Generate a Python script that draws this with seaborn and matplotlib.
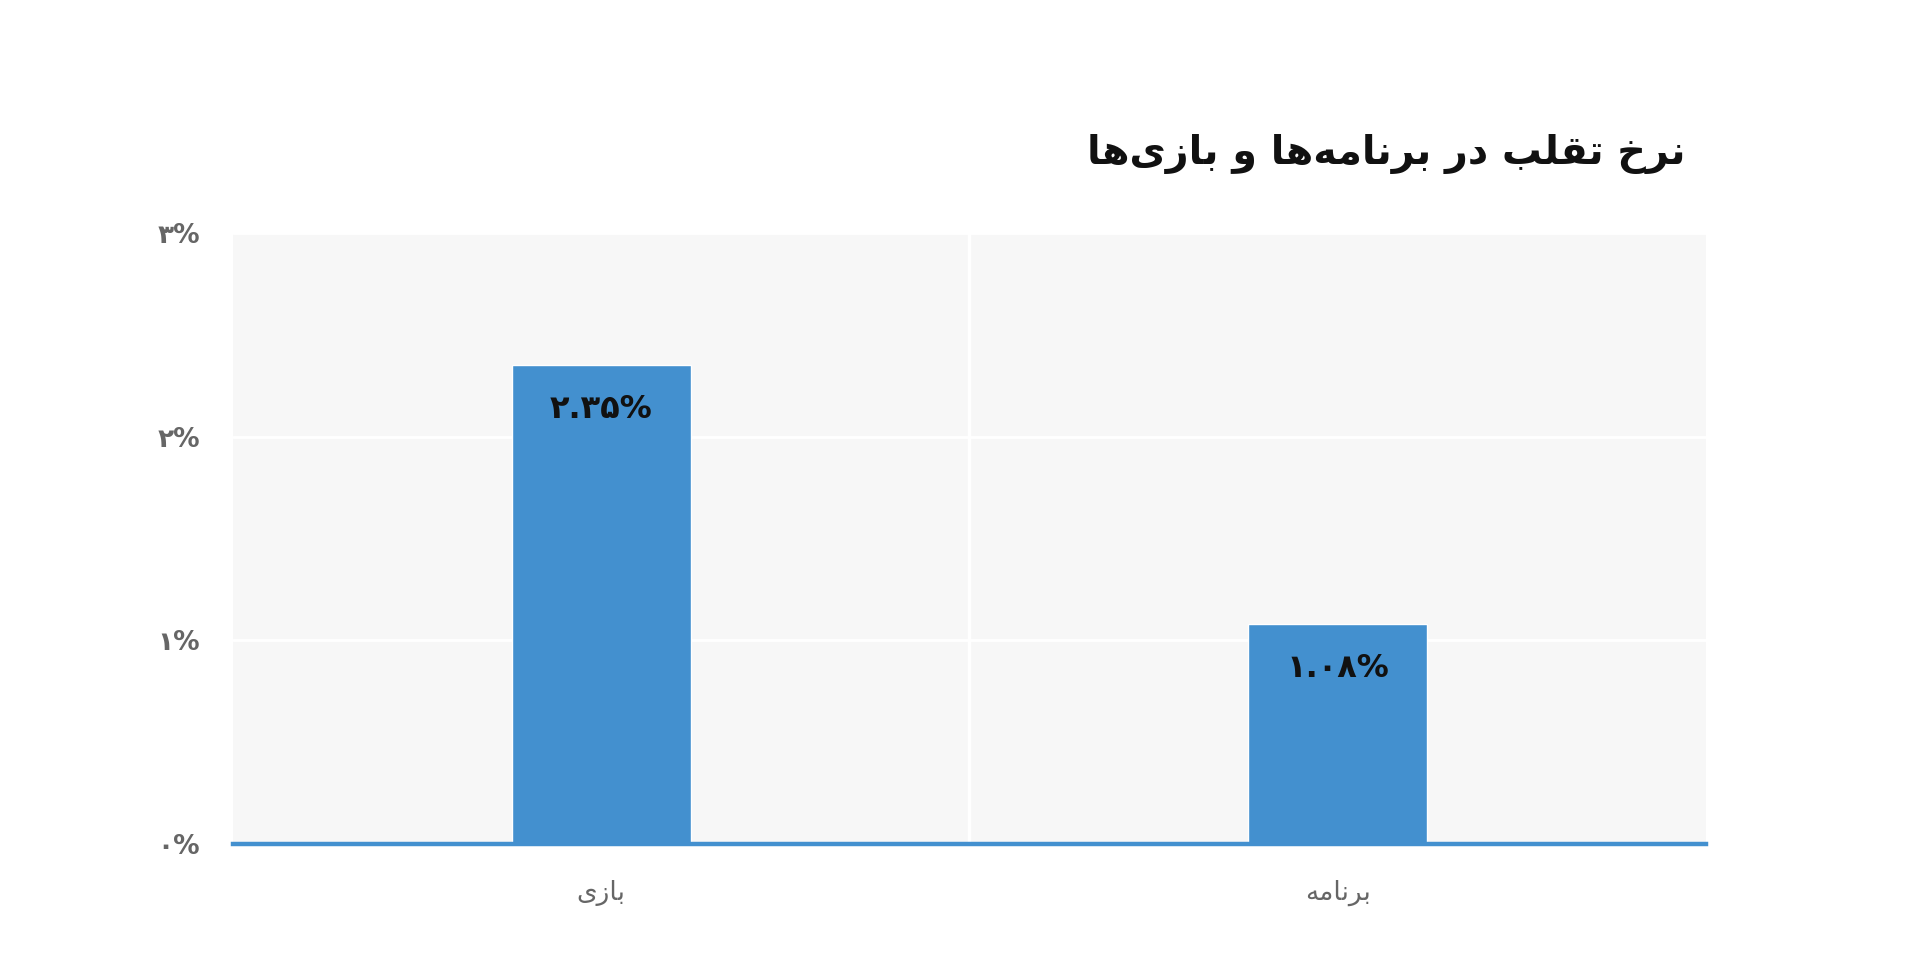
import matplotlib
matplotlib.use("Agg")
import matplotlib.pyplot as plt
import seaborn as sns
import pandas as pd

# ---------------- data ----------------
categories = ["بازی", "برنامه"]
values = [2.35, 1.08]
value_labels = ["۲.۳۵%", "۱.۰۸%"]
y_ticks = [0, 1, 2, 3]
y_tick_labels = ["۰%", "۱%", "۲%", "۳%"]
title = "نرخ تقلب در برنامه‌ها و بازی‌ها"

# ------------- minimal Persian shaping (matplotlib has no RTL shaping) -------------
FORMS = {  # iso, fin, ini, med
    "ا": ("\uFE8D", "\uFE8E", None, None),
    "ب": ("\uFE8F", "\uFE90", "\uFE91", "\uFE92"),
    "ت": ("\uFE95", "\uFE96", "\uFE97", "\uFE98"),
    "خ": ("\uFEA5", "\uFEA6", "\uFEA7", "\uFEA8"),
    "د": ("\uFEA9", "\uFEAA", None, None),
    "ر": ("\uFEAD", "\uFEAE", None, None),
    "ز": ("\uFEAF", "\uFEB0", None, None),
    "ق": ("\uFED5", "\uFED6", "\uFED7", "\uFED8"),
    "ل": ("\uFEDD", "\uFEDE", "\uFEDF", "\uFEE0"),
    "م": ("\uFEE1", "\uFEE2", "\uFEE3", "\uFEE4"),
    "ن": ("\uFEE5", "\uFEE6", "\uFEE7", "\uFEE8"),
    "ه": ("\uFEE9", "\uFEEA", "\uFEEB", "\uFEEC"),
    "و": ("\uFEED", "\uFEEE", None, None),
    "ی": ("\uFEEF", "\uFEF0", "\uFEF3", "\uFEF4"),
}


def shape(text):
    chars = list(text)
    out = []
    for i, c in enumerate(chars):
        if c == "\u200c":
            continue
        if c not in FORMS:
            out.append(c)
            continue
        prev = chars[i - 1] if i > 0 else None
        nxt = chars[i + 1] if i + 1 < len(chars) else None
        join_prev = prev in FORMS and FORMS[prev][2] is not None
        join_next = nxt in FORMS and FORMS[c][2] is not None
        iso, fin, ini, med = FORMS[c]
        if join_prev and join_next:
            out.append(med)
        elif join_prev:
            out.append(fin)
        elif join_next:
            out.append(ini)
        else:
            out.append(iso)
    return "".join(reversed(out))


# ---------------- style ----------------
sns.set_theme(style="white")
plt.rcParams["font.family"] = ["DejaVu Sans"]

bar_color = "#4390cf"
df = pd.DataFrame({"cat": [shape(c) for c in categories], "val": values})

fig = plt.figure(figsize=(19.2, 9.6), dpi=100)
ax = fig.add_axes([0.1214, 0.1208, 0.767, 0.6365])
ax.set_facecolor("#f7f7f7")

sns.barplot(data=df, x="cat", y="val", color=bar_color, saturation=1,
            width=0.243, ax=ax, zorder=3)

ax.set_xlim(-0.5, 1.5)
ax.set_ylim(0, 3)
ax.set_yticks(y_ticks)
ax.set_yticklabels(y_tick_labels, fontsize=19, fontweight="bold", color="#666666")
ax.tick_params(axis="y", length=0, pad=24)
ax.tick_params(axis="x", length=0, pad=26, labelsize=19, labelcolor="#666666")
ax.set_xlabel("")
ax.set_ylabel("")

# grid
for y in y_ticks[1:]:
    ax.axhline(y, color="white", lw=2, zorder=1)
ax.axvline(0.5, color="white", lw=2.5, zorder=1)

for s in ["top", "right", "left"]:
    ax.spines[s].set_visible(False)
ax.spines["bottom"].set_color(bar_color)
ax.spines["bottom"].set_linewidth(3.2)
ax.spines["bottom"].set_zorder(5)

for i, (v, lab) in enumerate(zip(values, value_labels)):
    ax.annotate(lab, xy=(i, v), xytext=(0, -32), textcoords="offset points",
                ha="center", va="center", fontsize=23, fontweight="bold",
                color="#111111", zorder=6)

fig.text(0.878, 0.84, shape(title), ha="right", va="center",
         fontsize=28.5, fontweight="bold", color="#111111")

fig.savefig("out.png", dpi=100, facecolor="white")
